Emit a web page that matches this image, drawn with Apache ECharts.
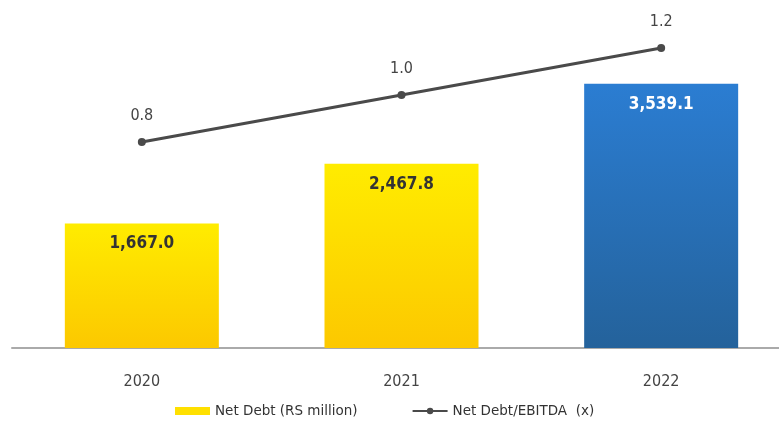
<!DOCTYPE html>
<html>
<head>
<meta charset="utf-8">
<script src="https://cdn.jsdelivr.net/npm/echarts@6/dist/echarts.min.js"></script>
<style>
    html, body { margin: 0; padding: 0; background: #fff; overflow: hidden; }
    #chart { width: 791px; height: 426px; }
</style>
</head>
<body>
<div id="chart"></div>
<script>
    // 数据
    var years = ['2020', '2021', '2022'];
    var netDebt = [1667.0, 2467.8, 3539.1];
    var debtRatio = [0.8, 1.0, 1.2];

    var yellow = new echarts.graphic.LinearGradient(0, 0, 0, 1, [
        { offset: 0, color: '#ffec00' },
        { offset: 1, color: '#fcc800' }
    ]);
    var blue = new echarts.graphic.LinearGradient(0, 0, 0, 1, [
        { offset: 0, color: '#2b7dd2' },
        { offset: 1, color: '#24629b' }
    ]);

    var myChart = echarts.init(document.getElementById('chart'));

    var option = {
        backgroundColor: '#fff',
        textStyle: { fontFamily: 'DejaVu Sans Condensed' },
        legend: {
            bottom: 3,
            left: 170,
            itemGap: 54,
            itemWidth: 35,
            itemHeight: 8,
            textStyle: { fontSize: 13.5, color: '#333', fontFamily: 'DejaVu Sans' },
            data: [
                { name: 'Net Debt (RS million)', icon: 'rect', itemStyle: { color: '#ffe000' } },
                { name: 'Net Debt/EBITDA  (x)' }
            ]
        },
        grid: { left: 12, right: 0, top: 12, bottom: 78 },
        xAxis: {
            type: 'category',
            data: years,
            axisLine: { lineStyle: { color: '#aaaaaa', width: 2 } },
            axisTick: { show: false },
            axisLabel: { fontSize: 16, color: '#444', margin: 26 }
        },
        yAxis: [
            { type: 'value', min: 0, max: 4500, show: false, splitLine: { show: false } },
            { type: 'value', min: -0.077, max: 1.353, show: false, splitLine: { show: false } }
        ],
        series: [
            {
                name: 'Net Debt (RS million)',
                type: 'bar',
                barWidth: 154,
                data: netDebt.map(function (v, i) {
                    return {
                        value: v,
                        itemStyle: { color: i === 2 ? blue : yellow },
                        label: { color: i === 2 ? '#fff' : '#333' }
                    };
                }),
                label: {
                    show: true,
                    position: 'insideTop',
                    distance: 12,
                    fontSize: 17,
                    fontWeight: 'bold',
                    fontFamily: 'DejaVu Sans Condensed',
                    formatter: function (p) {
                        return p.value.toLocaleString('en-US', { minimumFractionDigits: 1, maximumFractionDigits: 1 });
                    }
                }
            },
            {
                name: 'Net Debt/EBITDA  (x)',
                type: 'line',
                yAxisIndex: 1,
                data: debtRatio,
                symbol: 'circle',
                symbolSize: 8,
                lineStyle: { color: '#4a4a4a', width: 3 },
                itemStyle: { color: '#4a4a4a' },
                label: {
                    show: true,
                    position: 'top',
                    distance: 14,
                    fontSize: 16,
                    color: '#444',
                    formatter: function (p) { return p.value.toFixed(1); }
                }
            }
        ]
    };

    myChart.setOption(option);
</script>
</body>
</html>
